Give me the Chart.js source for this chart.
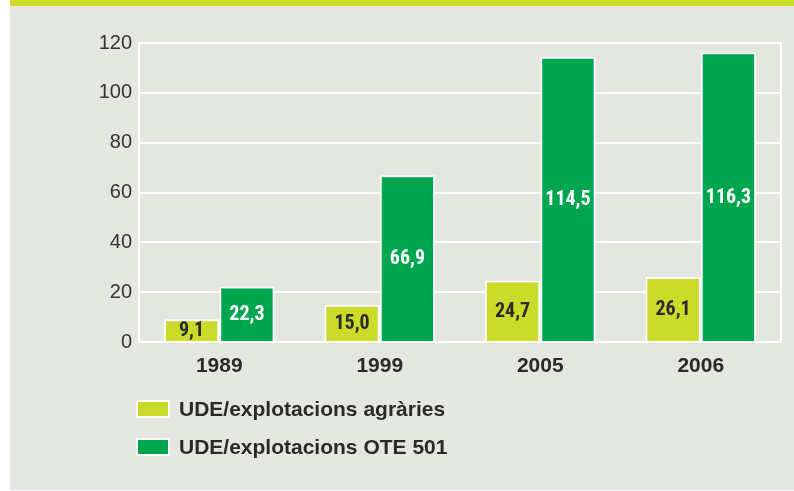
<!DOCTYPE html>
<html>
<head>
<meta charset="utf-8">
<script src="https://cdn.jsdelivr.net/npm/chart.js@4.4.1/dist/chart.umd.min.js"></script>
<style>
  html, body { margin: 0; padding: 0; background: #fff; }
  #wrap { position: relative; width: 794px; height: 491px; overflow: hidden; }
  #band { position: absolute; left: 10px; top: 0; width: 784px; height: 6px; background: #cbdb2a; }
  #panel { position: absolute; left: 10px; top: 6px; width: 784px; height: 484px; background: #e3e7e0; }
  #chart { position: absolute; left: 0; top: 0; }
</style>
</head>
<body>
<div id="wrap">
  <div id="band"></div>
  <div id="panel"></div>
  <canvas id="chart" width="794" height="491"></canvas>
</div>
<script>
// dades
const years = ['1989', '1999', '2005', '2006'];
const udeAgraries = [9.1, 15.0, 24.7, 26.1];
const udeOte501 = [22.3, 66.9, 114.5, 116.3];
const seriesNames = ['UDE/explotacions agràries', 'UDE/explotacions OTE 501'];

const colYellow = '#cbdb2a';
const colGreen = '#00a54f';
const textDark = '#2b2a29';

const fmt = v => v.toFixed(1).replace('.', ',');

// marc blanc de l'àrea del gràfic
const frame = {
    id: 'frame',
    beforeDatasetsDraw(chart) {
        const { ctx, chartArea: a } = chart;
        ctx.save();
        ctx.strokeStyle = '#ffffff';
        ctx.lineWidth = 2;
        ctx.strokeRect(a.left, a.top, a.right - a.left, a.bottom - a.top);
        ctx.restore();
    }
};

// etiquetes de valor dins les barres
const valueLabels = {
    id: 'valueLabels',
    afterDatasetsDraw(chart) {
        const { ctx } = chart;
        ctx.save();
        ctx.font = 'bold 20px "Liberation Sans Narrow", "Roboto Condensed", "Liberation Sans", sans-serif';
        ctx.textAlign = 'center';
        ctx.textBaseline = 'middle';
        chart.data.datasets.forEach((ds, i) => {
            chart.getDatasetMeta(i).data.forEach((bar, j) => {
                const y = (bar.y + bar.base) / 2;
                ctx.fillStyle = i === 0 ? textDark : '#ffffff';
                ctx.fillText(fmt(ds.data[j]), bar.x, y + 1);
            });
        });
        ctx.restore();
    }
};

// llegenda vertical a sota
const legendBelow = {
    id: 'legendBelow',
    afterDraw(chart) {
        const { ctx } = chart;
        ctx.save();
        ctx.font = 'bold 21px "Liberation Sans", Arial, sans-serif';
        ctx.textBaseline = 'middle';
        chart.data.datasets.forEach((ds, i) => {
            const cy = 409 + i * 38;
            ctx.fillStyle = '#ffffff';
            ctx.fillRect(136, cy - 9, 34, 18);
            ctx.fillStyle = ds.backgroundColor;
            ctx.fillRect(138, cy - 7, 30, 14);
            ctx.fillStyle = textDark;
            ctx.fillText(ds.label, 179, cy + 1);
        });
        ctx.restore();
    }
};

new Chart(document.getElementById('chart'), {
    type: 'bar',
    data: {
        labels: years,
        datasets: [
            {
                label: seriesNames[0],
                data: udeAgraries,
                backgroundColor: colYellow,
                borderColor: '#ffffff',
                borderWidth: 2,
                categoryPercentage: 0.69,
                barPercentage: 1.0
            },
            {
                label: seriesNames[1],
                data: udeOte501,
                backgroundColor: colGreen,
                borderColor: '#ffffff',
                borderWidth: 2,
                categoryPercentage: 0.69,
                barPercentage: 1.0
            }
        ]
    },
    options: {
        responsive: false,
        animation: false,
        layout: { padding: { top: 43, right: 13, bottom: 119, left: 0 } },
        plugins: {
            legend: { display: false },
            tooltip: { enabled: false }
        },
        scales: {
            x: {
                grid: { display: false },
                border: { display: false },
                ticks: {
                    color: textDark,
                    font: { family: '"Liberation Sans", Arial, sans-serif', size: 21, weight: 'bold' },
                    padding: 4
                },
                afterFit: s => { s.height = 30; }
            },
            y: {
                min: 0,
                max: 120,
                ticks: {
                    stepSize: 20,
                    color: '#333333',
                    font: { family: '"Liberation Sans", Arial, sans-serif', size: 20 },
                    padding: 7
                },
                grid: { color: '#ffffff', lineWidth: 2, drawTicks: false },
                border: { display: false },
                afterFit: s => { s.width = 139; }
            }
        }
    },
    plugins: [frame, valueLabels, legendBelow]
});
</script>
</body>
</html>
